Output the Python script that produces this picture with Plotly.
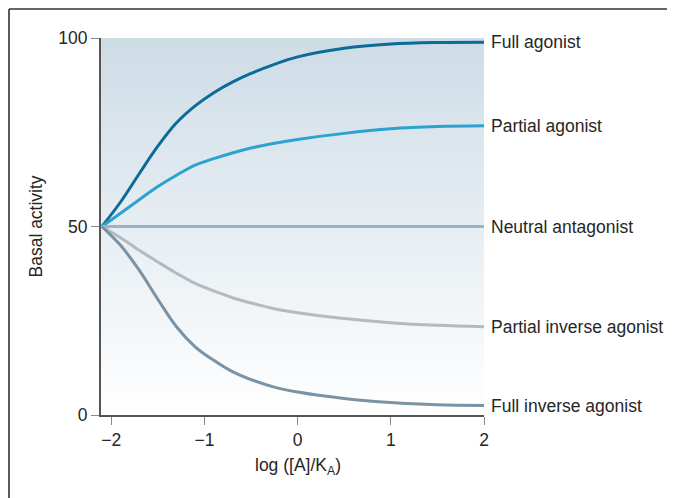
import plotly.graph_objects as go

# ---- data ----
log_conc = [-2.1, -1.9, -1.7, -1.5, -1.3, -1.1, -0.9, -0.7, -0.5, -0.25, 0.0, 0.5, 1.0, 1.5, 2.0]
full_agonist = [50, 56.5, 64.0, 71.3, 77.5, 82.0, 85.5, 88.3, 90.6, 93.0, 95.0, 97.3, 98.4, 98.8, 98.9]
partial_agonist = [50, 53.5, 57.1, 60.6, 63.6, 66.3, 68.0, 69.5, 70.8, 72.1, 73.1, 74.7, 75.9, 76.5, 76.7]
neutral_antagonist = [50] * len(log_conc)
partial_inverse = [50, 47.0, 43.7, 40.6, 37.6, 34.9, 32.9, 31.1, 29.7, 28.2, 27.1, 25.6, 24.5, 23.8, 23.4]
full_inverse = [50, 45.0, 38.4, 30.7, 23.4, 18.1, 14.5, 11.5, 9.4, 7.4, 6.1, 4.4, 3.3, 2.7, 2.5]

series_names = ["Full agonist", "Partial agonist", "Neutral antagonist",
                "Partial inverse agonist", "Full inverse agonist"]
series_values = [full_agonist, partial_agonist, neutral_antagonist, partial_inverse, full_inverse]
series_colors = ["#0b6c98", "#2ba2cf", "#9bb2c8", "#b3bac2", "#7a92a3"]

x_ticks = [-2, -1, 0, 1, 2]
x_tick_labels = ["\u22122", "\u22121", "0", "1", "2"]
y_ticks = [0, 50, 100]
x_range = [-2.11, 2]
y_range = [0, 100]

FONT = "Liberation Sans, Arial, sans-serif"
FS = 17.5
TXT = "#262626"
fig = go.Figure()

# gradient background of the plotting area
fig.add_trace(go.Scatter(
    x=[x_range[0], x_range[1], x_range[1], x_range[0], x_range[0]],
    y=[y_range[0], y_range[0], y_range[1], y_range[1], y_range[0]],
    mode="none", fill="toself",
    fillgradient=dict(type="vertical", colorscale=[[0, "#ffffff"], [1, "#cedce6"]]),
    hoverinfo="skip", showlegend=False,
))

for name, vals, col in zip(series_names, series_values, series_colors):
    fig.add_trace(go.Scatter(
        x=log_conc, y=vals, mode="lines", name=name,
        line=dict(color=col, width=3, shape="spline", smoothing=1.0),
        showlegend=False,
    ))
    fig.add_annotation(
        x=1, xref="paper", y=vals[-1], yref="y", text=name, showarrow=False,
        xanchor="left", yanchor="middle", xshift=5,
        font=dict(family=FONT, size=FS, color=TXT),
    )

# axis titles
fig.add_annotation(x=0, xref="x", y=0, yref="paper", yshift=-51, text="log ([A]/K<sub>A</sub>)",
                   showarrow=False, xanchor="center", yanchor="middle",
                   font=dict(family=FONT, size=FS, color=TXT))
fig.add_annotation(x=0, xref="paper", xshift=-66, y=50, yref="y", text="Basal activity",
                   textangle=-90, showarrow=False, xanchor="center", yanchor="middle",
                   font=dict(family=FONT, size=FS, color=TXT))

# frame lines (top and left)
top_y = 1 + 29 / 377
left_x = -92 / 383
fig.add_shape(type="line", xref="paper", yref="paper", x0=left_x, x1=1.6, y0=top_y, y1=top_y,
              line=dict(color="#333333", width=1.6))
fig.add_shape(type="line", xref="paper", yref="paper", x0=left_x, x1=left_x, y0=-0.3, y1=top_y,
              line=dict(color="#333333", width=1.6))

fig.update_layout(
    width=667, height=490,
    margin=dict(l=93, r=191, t=30, b=83),
    paper_bgcolor="white", plot_bgcolor="white",
    font=dict(family=FONT, size=FS, color=TXT),
    xaxis=dict(range=x_range, tickvals=x_ticks, ticktext=x_tick_labels,
               showgrid=False, zeroline=False, showline=True, linecolor="#555555", linewidth=2,
               ticks="outside", ticklen=8, tickcolor="#888888", tickwidth=1.2,
               tickfont=dict(family=FONT, size=FS, color=TXT)),
    yaxis=dict(range=y_range, tickvals=y_ticks, showgrid=False, zeroline=False, showline=True,
               linecolor="#555555", linewidth=2, ticks="outside", ticklen=8,
               tickcolor="#888888", tickwidth=1.2,
               tickfont=dict(family=FONT, size=FS, color=TXT)),
)

fig.write_html("out.html")
